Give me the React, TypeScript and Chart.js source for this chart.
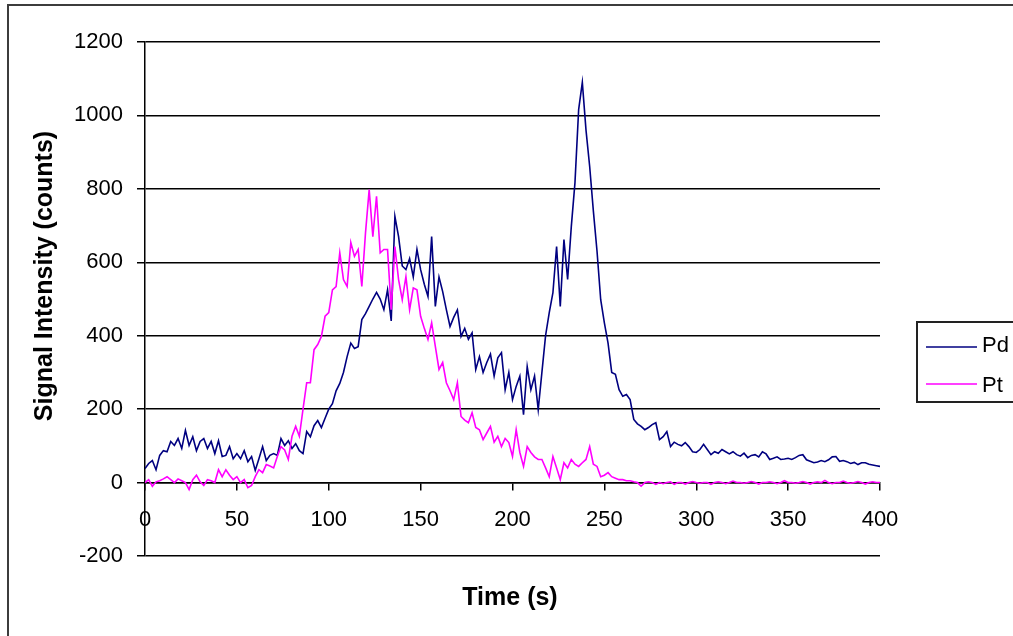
import React, { useEffect, useRef } from 'react';
import { Chart, registerables } from 'chart.js';

Chart.register(...registerables);

// Sampling interval of the recorded signal (seconds between points)
const TIME_STEP_S = 2;

// Pd signal (counts), one value every 2 s from 0 to 400 s
const PD_COUNTS = [
  38, 52, 60, 35, 74, 87, 84, 112, 101, 120,
  93, 142, 101, 125, 87, 112, 120, 93, 112, 79,
  114, 71, 74, 98, 65, 79, 65, 87, 57, 71,
  33, 65, 98, 60, 74, 79, 74, 120, 101, 114,
  93, 106, 87, 79, 139, 125, 155, 169, 150, 175,
  200, 215, 250, 270, 300, 343, 380, 365, 370, 444,
  460, 480, 500, 518, 500, 471, 525, 440, 725, 670,
  590, 580, 610, 560, 635, 580, 540, 507, 670, 480,
  560, 520, 471, 425, 450, 470, 398, 420, 390, 408,
  308, 343, 300, 327, 350, 290, 340, 354, 253, 300,
  226, 262, 290, 185, 316, 253, 290, 199, 300, 400,
  463, 517, 643, 480, 662, 553, 697, 817, 1016, 1090,
  960, 861, 740, 630, 498, 435, 380, 300, 295, 253,
  235, 240, 226, 172, 160, 153, 144, 150, 158, 163,
  117, 125, 139, 98, 110, 104, 100, 109, 98, 84,
  82, 90, 104, 90, 76, 84, 80, 90, 84, 78,
  84, 76, 72, 80, 68, 74, 76, 70, 84, 78,
  63, 66, 70, 63, 64, 66, 63, 68, 74, 76,
  62, 58, 54, 56, 60, 57, 62, 70, 71, 58,
  60, 57, 52, 55, 49, 54, 54, 50, 48, 46,
  44,
];

// Pt signal (counts), one value every 2 s from 0 to 400 s
const PT_COUNTS = [
  0, 8, -10, 2, 5, 10, 16, 8, 0, 10,
  5, 0, -19, 8, 20, 2, -8, 8, 5, 0,
  35, 16, 35, 20, 8, 16, 0, 8, -14, -8,
  16, 35, 27, 49, 45, 40, 71, 98, 89, 63,
  126, 153, 126, 200, 272, 272, 362, 376, 398, 453,
  463, 525, 534, 626, 553, 534, 654, 616, 635, 534,
  680, 798, 670, 780, 626, 635, 635, 471, 643, 553,
  498, 561, 471, 530, 525, 453, 420, 390, 435, 371,
  308, 327, 272, 250, 226, 272, 180, 170, 163, 190,
  150, 144, 117, 135, 153, 110, 126, 98, 120, 109,
  71, 144, 82, 44, 98, 82, 70, 63, 63, 40,
  16, 71, 40, 8, 54, 40, 63, 50, 44, 54,
  63, 98, 50, 44, 16, 20, 27, 16, 12, 8,
  8, 5, 5, 2, 0, -10, 0, 2, 0, -5,
  0, -3, 0, 2, -5, 0, 0, -4, 0, 3,
  0, -2, 0, 0, -5, 0, 2, 0, -3, 0,
  4, 0, 0, -2, 0, 3, 0, -4, 0, 0,
  2, 0, -3, 0, 5, 0, 0, -2, 0, 3,
  0, -4, 0, 2, 0, 6, 0, -3, 0, 0,
  4, 0, -2, 0, 3, 0, -4, 0, 2, 0,
  0,
];

const SERIES_LABELS = ['Pd', 'Pt'];
const SERIES_COLORS = ['#000080', '#FF00FF'];
const X_TICKS = [0, 50, 100, 150, 200, 250, 300, 350, 400];
const Y_TICKS = [-200, 0, 200, 400, 600, 800, 1000, 1200];
const X_TITLE = 'Time (s)';
const Y_TITLE = 'Signal Intensity (counts)';

const FONT_FAMILY = "'Liberation Sans', Arial, sans-serif";

const toPoints = (values: number[]) =>
  values.map((v, i) => ({ x: i * TIME_STEP_S, y: v }));

const decorPlugin = {
  id: 'decor',
  beforeDraw(chart: any) {
    const ctx = chart.ctx;
    ctx.save();
    ctx.fillStyle = '#ffffff';
    ctx.fillRect(0, 0, chart.width, chart.height);
    ctx.strokeStyle = '#3c3c3c';
    ctx.lineWidth = 2;
    ctx.strokeRect(8, 5, 1400, 1000);
    ctx.restore();
  },
  afterDraw(chart: any) {
    const ctx = chart.ctx;
    ctx.save();
    ctx.fillStyle = '#000';
    ctx.font = `bold 25px ${FONT_FAMILY}`;
    ctx.textAlign = 'center';
    ctx.textBaseline = 'middle';
    // x title
    ctx.fillText(X_TITLE, 510, 598);
    // y title
    ctx.save();
    ctx.translate(45, 276);
    ctx.rotate(-Math.PI / 2);
    ctx.fillText(Y_TITLE, 0, 0);
    ctx.restore();

    // legend
    ctx.strokeStyle = '#222';
    ctx.lineWidth = 2;
    ctx.strokeRect(917, 322, 200, 80);
    const rows = [347, 384];
    const textBase = [352, 392];
    ctx.font = `22px ${FONT_FAMILY}`;
    ctx.textAlign = 'left';
    ctx.textBaseline = 'alphabetic';
    chart.data.datasets.forEach((ds: any, i: number) => {
      ctx.strokeStyle = ds.borderColor;
      ctx.lineWidth = 1.5;
      ctx.beginPath();
      ctx.moveTo(926, rows[i]);
      ctx.lineTo(977, rows[i]);
      ctx.stroke();
      ctx.fillStyle = '#000';
      ctx.fillText(ds.label, 982, textBase[i]);
    });
    ctx.restore();
  },
};

export default function App() {
  const ref = useRef<HTMLCanvasElement | null>(null);

  useEffect(() => {
    if (!ref.current) return;
    const chart = new Chart(ref.current, {
      type: 'line',
      data: {
        datasets: [
          {
            label: SERIES_LABELS[0],
            data: toPoints(PD_COUNTS),
            borderColor: SERIES_COLORS[0],
            backgroundColor: SERIES_COLORS[0],
            borderWidth: 1.6,
            pointRadius: 0,
            tension: 0,
            fill: false,
            order: 1,
          },
          {
            label: SERIES_LABELS[1],
            data: toPoints(PT_COUNTS),
            borderColor: SERIES_COLORS[1],
            backgroundColor: SERIES_COLORS[1],
            borderWidth: 1.6,
            pointRadius: 0,
            tension: 0,
            fill: false,
            order: 0,
          },
        ],
      },
      options: {
        responsive: false,
        animation: false,
        devicePixelRatio: 1,
        layout: { padding: { left: 0, top: 42, right: 133, bottom: 80 } },
        plugins: {
          legend: { display: false },
          tooltip: { enabled: false },
          title: { display: false },
        },
        scales: {
          x: {
            type: 'linear',
            position: { y: 0 } as any,
            min: X_TICKS[0],
            max: X_TICKS[X_TICKS.length - 1],
            afterBuildTicks: (scale: any) => {
              scale.ticks = X_TICKS.map((v) => ({ value: v }));
            },
            grid: {
              drawOnChartArea: false,
              drawTicks: true,
              tickLength: 7,
              color: '#000',
              lineWidth: 1.5,
            },
            border: { display: true, color: '#000', width: 1.5 },
            ticks: {
              font: { family: FONT_FAMILY, size: 22 },
              color: '#000',
              padding: 17,
              maxRotation: 0,
              autoSkip: false,
              callback: (v: any) => String(v),
            },
          },
          y: {
            type: 'linear',
            min: Y_TICKS[0],
            max: Y_TICKS[Y_TICKS.length - 1],
            afterBuildTicks: (scale: any) => {
              scale.ticks = Y_TICKS.map((v) => ({ value: v }));
            },
            afterFit: (scale: any) => {
              scale.width = 145;
            },
            grid: {
              color: '#000',
              lineWidth: 1.5,
              tickLength: 8,
              drawTicks: true,
            },
            border: { display: true, color: '#000', width: 1.5 },
            ticks: {
              font: { family: FONT_FAMILY, size: 22 },
              color: '#000',
              padding: 14,
              callback: (v: any) => String(v),
            },
          },
        },
      },
      plugins: [decorPlugin],
    });
    return () => chart.destroy();
  }, []);

  return (
    <div style={{ position: 'fixed', left: 0, top: 0, width: 1013, height: 636 }}>
      <canvas ref={ref} width={1013} height={636} style={{ display: 'block' }} />
    </div>
  );
}
